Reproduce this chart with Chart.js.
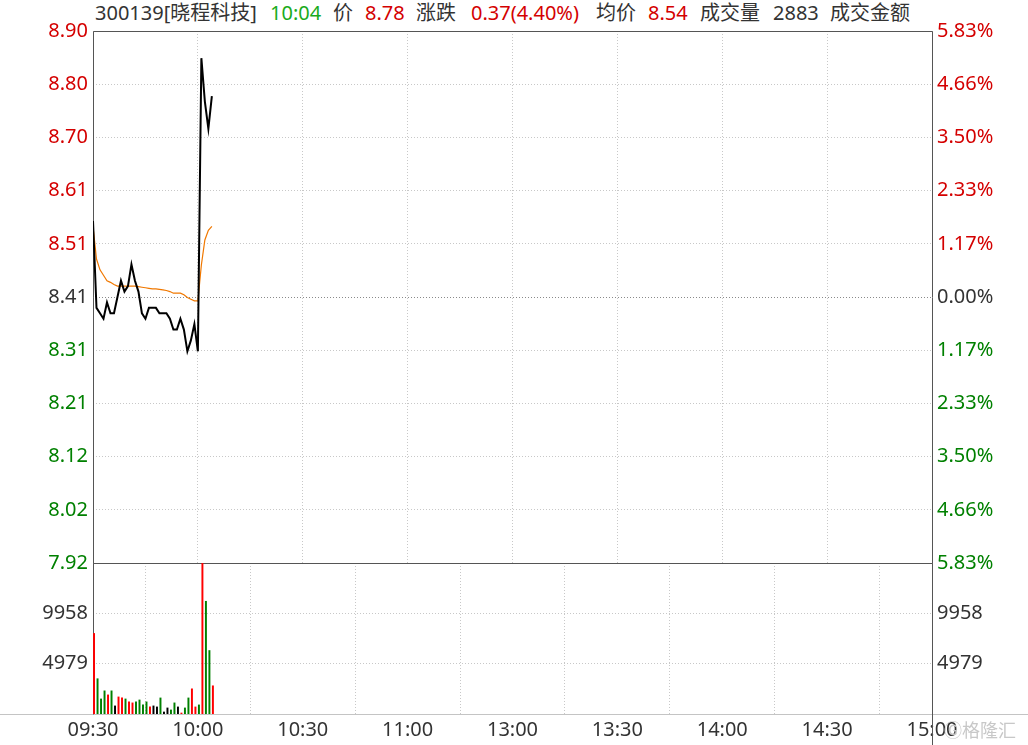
<!DOCTYPE html>
<html>
<head>
<meta charset="utf-8" />
<script src="https://cdn.jsdelivr.net/npm/chart.js@4.4.1/dist/chart.umd.min.js"></script>
<style>
  body {
    margin: 0;
    width: 1028px;
    height: 745px;
    position: relative;
    overflow: hidden;
    background: #fff;
    font-family: 'Noto Sans', 'Noto Sans CJK SC', sans-serif;
  }
  #head {
    position: absolute;
    left: 0;
    top: 0;
    width: 928px;
    height: 30px;
    overflow: hidden;
    font-size: 20px;
    line-height: 20px;
    color: #333;
    white-space: nowrap;
  }
  #head span { position: absolute; top: 3px; }
  .up { color: #d40000; }
  .tm { color: #1aab1a; }
  canvas { position: absolute; left: 0; }
  #chart-price { top: 0; }
  #chart-vol { top: 540px; }
  #mark {
    position: absolute;
    left: 944px;
    top: 716px;
    font-size: 18px;
    color: #c8c8c8;
    white-space: nowrap;
    font-family: 'Noto Sans CJK SC', sans-serif;
  }
</style>
</head>
<body>
  <div id="head">
    <span style="left:95px">300139[晓程科技]</span>
    <span class="tm" style="left:270px">10:04</span>
    <span style="left:333px">价</span>
    <span class="up" style="left:365px">8.78</span>
    <span style="left:416px">涨跌</span>
    <span class="up" style="left:471px">0.37(4.40%)</span>
    <span style="left:596px">均价</span>
    <span class="up" style="left:648px">8.54</span>
    <span style="left:700px">成交量</span>
    <span style="left:773px">2883</span>
    <span style="left:830px">成交金额</span>
  </div>
  <canvas id="chart-price" width="1028" height="581"></canvas>
  <canvas id="chart-vol" width="1028" height="205"></canvas>
  <div id="mark">Ⓖ格隆汇</div>
<script>
  // minute data from 09:30 to 10:04
  var prices = [8.55, 8.39, 8.38, 8.37, 8.40, 8.38, 8.38, 8.41, 8.44, 8.42, 8.43, 8.47, 8.44, 8.42, 8.38,
    8.37, 8.39, 8.39, 8.39, 8.38, 8.38, 8.38, 8.37, 8.35, 8.35, 8.37, 8.35, 8.31, 8.33, 8.36,
    8.31, 8.85, 8.77, 8.72, 8.78];
  var avgPrices = [8.54, 8.48, 8.46, 8.45, 8.44, 8.437, 8.433, 8.43, 8.43, 8.43, 8.43, 8.43, 8.43, 8.429, 8.428,
    8.427, 8.426, 8.425, 8.425, 8.424, 8.423, 8.422, 8.42, 8.417, 8.417, 8.417, 8.414, 8.409, 8.406, 8.403,
    8.403, 8.469, 8.515, 8.533, 8.54];
  var volumes = [7970, 3490, 1490, 2290, 1890, 2290, 800, 1690, 1590, 1490, 1200, 1100, 1200, 1390, 900,
    1200, 700, 800, 700, 1590, 200, 600, 400, 1100, 700, 100, 600, 1590, 2490, 700,
    900, 14900, 11150, 6280, 2790];
  var prevClose = 8.41;

  var timeLabels = ['09:30', '10:00', '10:30', '11:00', '13:00', '13:30', '14:00', '14:30', '15:00'];
  var priceLabels = ['8.90', '8.80', '8.70', '8.61', '8.51', '8.41', '8.31', '8.21', '8.12', '8.02', '7.92'];
  var pctLabels = ['5.83%', '4.66%', '3.50%', '2.33%', '1.17%', '0.00%', '1.17%', '2.33%', '3.50%', '4.66%', '5.83%'];
  var volLabels = ['9958', '4979'];

  var RED = '#d40000', GREEN = '#008000', DARK = '#333';
  var GRID = '#c8c8c8';

  Chart.defaults.font.family = "'Noto Sans', 'Noto Sans CJK SC', sans-serif";
  Chart.defaults.font.size = 20;
  Chart.defaults.animation = false;

  var yMax = parseFloat(priceLabels[0]);
  var yMin = parseFloat(priceLabels[priceLabels.length - 1]);
  var mid = (priceLabels.length - 1) / 2;

  function labelColor(ctx) {
    if (ctx.index > mid) return RED;
    if (ctx.index < mid) return GREEN;
    return DARK;
  }

  function evenTicks(scale) {
    var n = priceLabels.length;
    var t = [];
    for (var i = 0; i < n; i++) t.push({ value: yMin + i * (yMax - yMin) / (n - 1) });
    scale.ticks = t;
  }

  // frame around plot area, drawn under the data
  var framePlugin = {
    id: 'frame',
    beforeDatasetsDraw: function (chart, args, opts) {
      var a = chart.chartArea, c = chart.ctx;
      var L = Math.round(a.left) + 0.5, R = Math.round(a.right) + 0.5;
      var T = Math.round(a.top) + 0.5, B = Math.round(a.bottom) + 0.5;
      c.save();
      c.lineWidth = 1;
      if (opts.vol) {
        c.strokeStyle = '#c4c4c4';
        c.beginPath();
        c.moveTo(0, B); c.lineTo(chart.width, B);
        c.stroke();
      }
      c.strokeStyle = '#555';
      c.beginPath();
      c.moveTo(L, B); c.lineTo(L, T); c.lineTo(R, T);
      c.lineTo(R, opts.vol ? chart.height : B);
      if (!opts.vol) { c.moveTo(L, B); c.lineTo(R, B); }
      c.stroke();
      c.restore();
    }
  };

  var xGrid = {
    type: 'linear', min: 0, max: 240, offset: false,
    grid: { color: GRID, drawTicks: false },
    border: { display: false, dash: [1, 2] },
    afterBuildTicks: function (s) { s.ticks = timeLabels.map(function (t, i) { return { value: i * 30 }; }); }
  };

  // price pane
  var chartPrice = new Chart(document.getElementById('chart-price'), {
    type: 'line',
    data: {
      datasets: [{
        data: prices.map(function (p, i) { return { x: i, y: p }; }),
        borderColor: '#000',
        borderWidth: 2,
        pointRadius: 0,
        tension: 0
      }, {
        data: avgPrices.map(function (p, i) { return { x: i, y: p }; }),
        borderColor: '#f07800',
        borderWidth: 1.2,
        pointRadius: 0,
        tension: 0
      }]
    },
    options: {
      responsive: false,
      layout: { padding: { top: 31, bottom: 18, left: 0, right: 0 } },
      scales: {
        x: Object.assign({}, xGrid, {
          ticks: { display: false },
          afterFit: function (s) { s.height = 0; }
        }),
        y: {
          position: 'left', min: yMin, max: yMax,
          afterBuildTicks: evenTicks,
          ticks: {
            padding: 5,
            color: labelColor,
            callback: function (v, i) { return priceLabels[priceLabels.length - 1 - i]; }
          },
          grid: {
            drawTicks: false,
            color: function (ctx) { return ctx.index === mid ? '#8a8a8a' : GRID; }
          },
          border: { display: false, dash: [1, 2] },
          afterFit: function (s) { s.width = 93; }
        },
        y2: {
          position: 'right', min: yMin, max: yMax,
          afterBuildTicks: evenTicks,
          ticks: {
            padding: 5,
            color: labelColor,
            callback: function (v, i) { return pctLabels[pctLabels.length - 1 - i]; }
          },
          grid: { display: false, drawTicks: false },
          border: { display: false },
          afterFit: function (s) { s.width = 96; }
        }
      },
      plugins: {
        legend: { display: false },
        tooltip: { enabled: false },
        frame: { vol: false }
      }
    },
    plugins: [framePlugin]
  });

  // volume pane
  var barColors = prices.map(function (p, i) {
    var prev = i === 0 ? prevClose : prices[i - 1];
    if (p > prev) return '#ff0000';
    if (p < prev) return '#008000';
    return '#000';
  });
  var volMax = parseFloat(volLabels[1]) * 3;

  function volTicks(scale) {
    scale.ticks = volLabels.map(function (v) { return { value: parseFloat(v) }; }).reverse();
  }

  var chartVol = new Chart(document.getElementById('chart-vol'), {
    type: 'bar',
    data: {
      datasets: [{
        data: volumes.map(function (v, i) { return { x: i + 0.3, y: v }; }),
        backgroundColor: barColors,
        barThickness: 1.3
      }]
    },
    options: {
      responsive: false,
      layout: { padding: { top: 23, bottom: 0, left: 0, right: 0 } },
      scales: {
        x: Object.assign({}, xGrid, {
          ticks: {
            color: DARK, padding: 4, autoSkip: false, maxRotation: 0,
            callback: function (v, i) { return timeLabels[i]; }
          },
          afterFit: function (s) { s.height = 31; }
        }),
        y: {
          position: 'left', min: 0, max: volMax,
          afterBuildTicks: volTicks,
          ticks: {
            padding: 5, color: DARK,
            callback: function (v, i) { return volLabels[volLabels.length - 1 - i]; }
          },
          grid: { color: GRID, drawTicks: false },
          border: { display: false, dash: [1, 2] },
          afterFit: function (s) { s.width = 93; }
        },
        y2: {
          position: 'right', min: 0, max: volMax,
          afterBuildTicks: volTicks,
          ticks: {
            padding: 5, color: DARK,
            callback: function (v, i) { return volLabels[volLabels.length - 1 - i]; }
          },
          grid: { display: false, drawTicks: false },
          border: { display: false },
          afterFit: function (s) { s.width = 96; }
        }
      },
      plugins: {
        legend: { display: false },
        tooltip: { enabled: false },
        frame: { vol: true }
      }
    },
    plugins: [framePlugin]
  });
</script>
</body>
</html>
